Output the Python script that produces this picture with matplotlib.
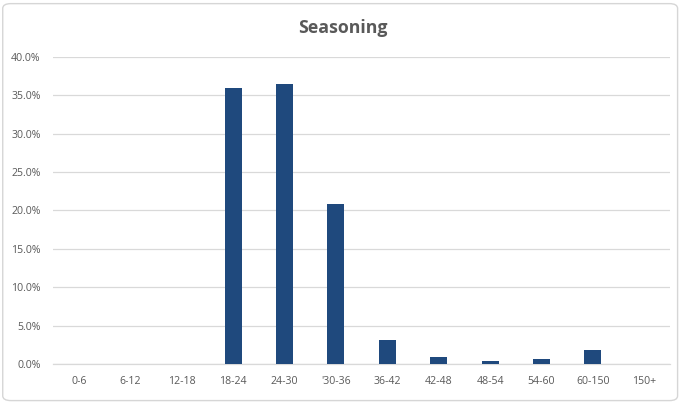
import matplotlib
matplotlib.use("Agg")
import matplotlib.pyplot as plt
from matplotlib.patches import FancyBboxPatch
from matplotlib.ticker import PercentFormatter, MultipleLocator

# Loan seasoning buckets (months) and share of balance
buckets = ["0-6", "6-12", "12-18", "18-24", "24-30", "'30-36",
           "36-42", "42-48", "48-54", "54-60", "60-150", "150+"]
shares = [0.0, 0.0, 0.0, 0.359, 0.365, 0.209,
          0.031, 0.009, 0.0043, 0.007, 0.018, 0.0]

bar_color = "#1F497D"
text_color = "#595959"
grid_color = "#D9D9D9"

plt.rcParams["font.family"] = ["Open Sans", "DejaVu Sans"]

fig = plt.figure(figsize=(6.81, 4.03), dpi=100)

# Rounded chart frame, drawn beneath the axes
frame = FancyBboxPatch((0.004, 0.006), 0.991, 0.985,
                       boxstyle="round,pad=0,rounding_size=0.012",
                       transform=fig.transFigure, facecolor="white",
                       edgecolor="#D6D6D6", linewidth=1.0, zorder=-10)
fig.patches.append(frame)

ax = fig.add_axes([0.078, 0.0968, 0.906, 0.7618])
ax.set_zorder(1)
ax.set_facecolor("none")

x = range(len(buckets))
ax.bar(x, shares, width=0.33, color=bar_color, zorder=3)

ax.set_xlim(-0.5, len(buckets) - 0.5)
ax.set_ylim(0, 0.40)
ax.yaxis.set_major_locator(MultipleLocator(0.05))
ax.yaxis.set_major_formatter(PercentFormatter(1.0, decimals=1))
ax.set_xticks(list(x))
ax.set_xticklabels(buckets)

ax.grid(axis="y", color=grid_color, linewidth=0.9, zorder=0)
for side in ["top", "right", "left"]:
    ax.spines[side].set_visible(False)
ax.spines["bottom"].set_color(grid_color)
ax.spines["bottom"].set_linewidth(0.9)

ax.tick_params(axis="both", length=0, labelsize=7.6, labelcolor=text_color)
ax.tick_params(axis="x", pad=9)
ax.tick_params(axis="y", pad=9)

fig.text(0.503, 0.93, "Seasoning", ha="center", va="center",
         fontsize=12.8, fontweight="bold", color=text_color, zorder=5)

fig.savefig("out.png", dpi=100)
